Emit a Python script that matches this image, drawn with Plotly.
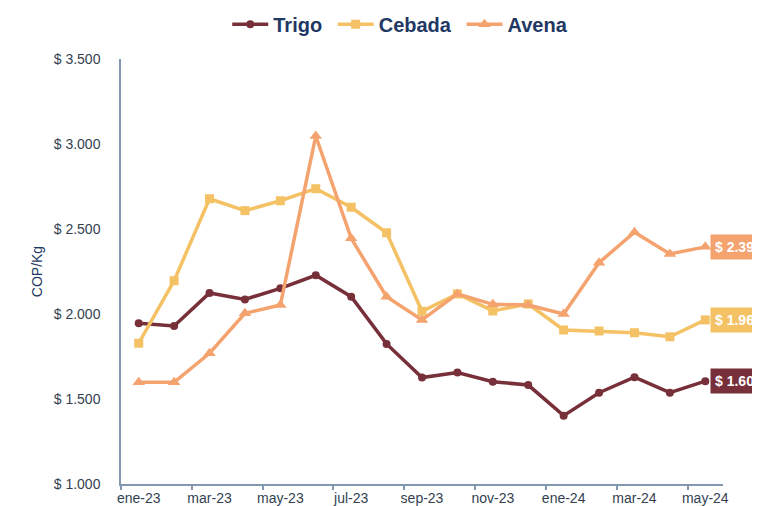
import plotly.graph_objects as go

months = ["ene-23", "feb-23", "mar-23", "abr-23", "may-23", "jun-23", "jul-23",
          "ago-23", "sep-23", "oct-23", "nov-23", "dic-23", "ene-24", "feb-24",
          "mar-24", "abr-24", "may-24"]

trigo = [1945, 1929, 2124, 2086, 2151, 2228, 2102, 1824, 1626, 1656, 1602,
         1582, 1402, 1537, 1628, 1537, 1605]
cebada = [1828, 2196, 2678, 2608, 2666, 2737, 2628, 2478, 2016, 2118, 2018,
          2059, 1906, 1900, 1890, 1866, 1965]
avena = [1598, 1598, 1769, 2004, 2053, 3047, 2445, 2102, 1965, 2118, 2057,
         2053, 2000, 2302, 2481, 2353, 2395]

y_ticks = [1000, 1500, 2000, 2500, 3000, 3500]
y_ticktext = ["$ 1.000", "$ 1.500", "$ 2.000", "$ 2.500", "$ 3.000", "$ 3.500"]

series = [
    ("Trigo", trigo, "#77303a", "circle", 8),
    ("Cebada", cebada, "#f4c265", "square", 9),
    ("Avena", avena, "#f5a36e", "triangle-up", 11),
]

NAVY = "#1f3864"
AXIS = "#8497b0"
TICK = "#333f50"

x_idx = list(range(len(months)))

fig = go.Figure()
for name, vals, color, symbol, msize in series:
    fig.add_trace(go.Scatter(
        x=x_idx, y=vals, name=name + " ", mode="lines+markers",
        line=dict(color=color, width=3.5),
        marker=dict(color=color, size=msize, symbol=symbol),
    ))

# end-of-line value labels
for name, vals, color, symbol, msize in series:
    last = vals[-1]
    txt = "$ {:,.0f}".format(last).replace(",", ".")
    fig.add_annotation(
        x=x_idx[-1], y=last, text="<b>" + txt + "</b>",
        xanchor="left", yanchor="middle", xshift=5, showarrow=False,
        bgcolor=color, font=dict(color="white", size=14, family="Arial"),
        borderpad=4,
    )

# page body adds an 8px offset, margins compensate for it
fig.update_layout(
    width=760, height=506,
    margin=dict(l=113, r=45, t=51, b=30, autoexpand=False),
    plot_bgcolor="white", paper_bgcolor="white",
    font=dict(family="Arial, Liberation Sans", color=TICK, size=14),
    legend=dict(
        orientation="h", x=0.468, xanchor="center", y=1.082, yanchor="middle",
        font=dict(size=20, color=NAVY, family="Arial", weight="bold"),
        tracegroupgap=0, itemwidth=36,
    ),
    showlegend=True,
)
fig.update_xaxes(
    range=[-0.5, 16.5],
    tickvals=x_idx[::2], ticktext=months[::2],
    showgrid=False, zeroline=False,
    showline=True, linecolor=AXIS, linewidth=1.5,
    ticks="", tickfont=dict(size=14, color=TICK),
)
# boundary tick marks every two months
fig.add_trace(go.Scatter(x=[-0.5, 16.5], y=[None, None], xaxis="x2",
                         showlegend=False, hoverinfo="skip"))
fig.update_layout(xaxis2=dict(
    overlaying="x", anchor="y", side="bottom", range=[-0.5, 16.5],
    tickvals=[v - 0.5 for v in x_idx[::2]], ticktext=[""] * len(x_idx[::2]),
    ticks="outside", ticklen=5, tickcolor=AXIS, tickwidth=1.5,
    showgrid=False, zeroline=False, showline=False,
))
fig.update_yaxes(
    range=[1000, 3500], tickvals=y_ticks, ticktext=y_ticktext,
    showgrid=False, zeroline=False,
    showline=True, linecolor=AXIS, linewidth=1.5,
    ticks="", ticklabelstandoff=16, tickfont=dict(size=14, color=TICK),
    title=dict(text="COP/Kg", font=dict(size=14, color=NAVY), standoff=8),
)

fig.write_html("out.html")
